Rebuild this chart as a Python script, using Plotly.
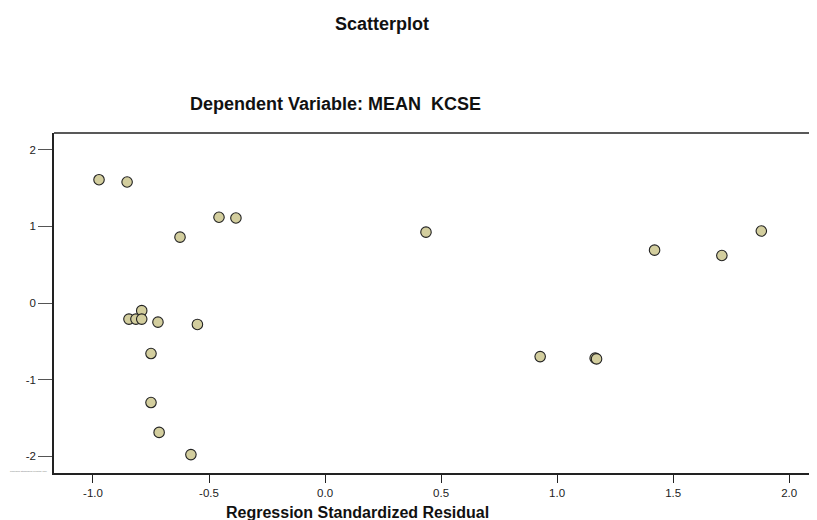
import plotly.graph_objects as go

# Data
residual = [-0.974, -0.853, -0.457, -0.384, -0.625, 0.435, 1.42, 1.71, 1.88,
            -0.79, -0.845, -0.815, -0.79, -0.72, -0.55, -0.75, -0.75, -0.715,
            -0.578, 0.927, 1.164, 1.17]
predicted = [1.61, 1.58, 1.12, 1.11, 0.86, 0.925, 0.69, 0.62, 0.94,
             -0.10, -0.21, -0.21, -0.21, -0.25, -0.28, -0.66, -1.30, -1.69,
             -1.98, -0.70, -0.72, -0.73]
x_ticks = [-1.0, -0.5, 0.0, 0.5, 1.0, 1.5, 2.0]
x_tick_labels = ["-1.0", "-0.5", "0.0", "0.5", "1.0", "1.5", "2.0"]
y_ticks = [-2, -1, 0, 1, 2]
y_tick_labels = ["-2", "-1", "0", "1", "2"]

FONT = "Liberation Sans, Arial, sans-serif"

# page body has an 8px margin, so the figure is sized/offset to compensate
W, H = 809, 512
ML, MR, MT, MB = 46, 0, 125, 47
PW, PH = W - ML - MR, H - MT - MB


def px(xp):  # page x -> paper x
    return (xp - 8 - ML) / PW


def py(yp):  # page y -> paper y
    return 1 - (yp - 8 - MT) / PH


fig = go.Figure()
fig.add_trace(go.Scatter(
    x=residual, y=predicted, mode="markers",
    marker=dict(symbol="circle", size=10.5, color="#D3CE9E",
                line=dict(color="#222222", width=1.1)),
    showlegend=False, hoverinfo="x+y"))

fig.update_layout(
    width=W, height=H,
    margin=dict(l=ML, r=MR, t=MT, b=MB),
    paper_bgcolor="white", plot_bgcolor="white",
    font=dict(family=FONT, size=11, color="#222222"),
    xaxis=dict(range=[-1.168, 2.12], tickvals=x_ticks, ticktext=x_tick_labels,
               showgrid=False, zeroline=False, showline=True,
               linecolor="#222222", linewidth=1.5, ticks="outside",
               ticklen=8, tickcolor="#222222", tickwidth=1,
               tickfont=dict(size=11.5, color="#222222")),
    yaxis=dict(range=[-2.22, 2.22], tickvals=y_ticks, ticktext=y_tick_labels,
               showgrid=False, zeroline=False, showline=True,
               linecolor="#222222", linewidth=1.5, ticks="outside",
               ticklen=14, tickcolor="#555555", tickwidth=1,
               tickfont=dict(size=11.5, color="#222222")),
    shapes=[dict(type="line", xref="paper", yref="paper", x0=0, x1=1, y0=1, y1=1,
                 line=dict(color="#222222", width=1.5))],
    annotations=[
        dict(text="<b>Scatterplot</b>", xref="paper", yref="paper",
             x=px(382), y=py(24), showarrow=False,
             font=dict(size=18, family=FONT, color="#111111"),
             xanchor="center", yanchor="middle"),
        dict(text="<b>Dependent Variable: MEAN&nbsp; KCSE</b>", xref="paper", yref="paper",
             x=px(335.5), y=py(104), showarrow=False,
             font=dict(size=18, family=FONT, color="#111111"),
             xanchor="center", yanchor="middle"),
        dict(text="<b>Regression Standardized Residual</b>", xref="paper", yref="paper",
             x=px(357.5), y=py(512), showarrow=False,
             font=dict(size=16, family=FONT, color="#111111"),
             xanchor="center", yanchor="middle"),
        dict(text="Regression Standardized Predicted Value", xref="paper", yref="paper",
             x=px(8), y=py(471), showarrow=False,
             font=dict(size=2, family=FONT, color="#777777"),
             xanchor="left", yanchor="middle"),
    ],
)

fig.write_html("out.html")
